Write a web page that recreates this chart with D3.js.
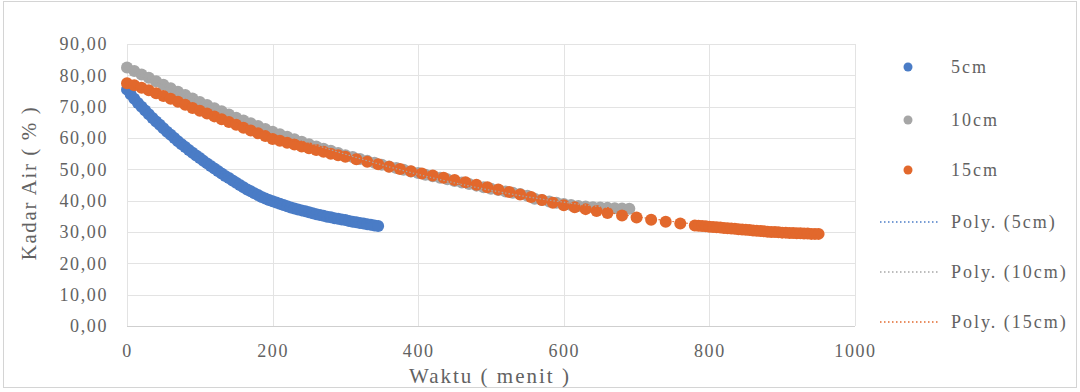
<!DOCTYPE html>
<html>
<head>
<meta charset="utf-8">
<script src="https://cdn.jsdelivr.net/npm/d3@7"></script>
<style>
  body { margin: 0; background: #fff; }
  text { font-family: "Liberation Serif", "Times New Roman", serif; fill: #626262; }
</style>
</head>
<body>
<svg id="chart" width="1080" height="392"></svg>
<script>
// 5cm
const time5 = [0,5,10,15,20,25,30,35,40,45,50,55,60,65,70,75,80,85,90,95,100,105,110,115,120,
  125,130,135,140,145,150,155,160,165,170,175,180,185,190,195,200,205,210,215,220,225,230,235,
  240,245,250,255,260,265,270,275,280,285,290,295,300,305,310,315,320,325,330,335,340,345];
const kadar5 = [75.5,74.0,72.5,71.2,70.0,68.8,67.6,66.4,65.3,64.2,63.1,62.0,61.0,60.0,59.0,58.0,
  57.1,56.2,55.3,54.4,53.6,52.7,51.9,51.1,50.3,49.5,48.7,47.9,47.2,46.4,45.7,45.0,44.3,43.6,43.0,
  42.4,41.8,41.2,40.7,40.2,39.8,39.4,39.0,38.6,38.2,37.8,37.5,37.2,36.9,36.6,36.3,36.0,35.7,35.4,
  35.2,34.9,34.7,34.4,34.2,34.0,33.8,33.5,33.3,33.1,32.9,32.7,32.5,32.3,32.1,31.9];

// 10cm
const time10 = [0,10,20,30,40,50,60,70,80,90,100,110,120,130,140,150,160,170,180,190,200,
  210,220,230,240,250,260,270,280,290,300,310,320,330,340,350,360,370,380,390,400,
  410,420,430,440,450,460,470,480,490,500,510,520,530,540,550,560,570,580,590,600,
  610,620,630,640,650,660,670,680,690];
const kadar10 = [82.5,81.4,80.3,79.2,78.1,77.0,75.9,74.8,73.7,72.6,71.5,70.5,69.5,68.5,67.5,66.5,
  65.6,64.7,63.8,62.9,62.0,61.2,60.4,59.6,58.8,58.0,57.3,56.6,55.9,55.2,54.5,53.9,53.3,52.7,52.1,
  51.5,50.9,50.4,49.9,49.3,48.8,48.3,47.8,47.3,46.8,46.3,45.8,45.3,44.8,44.3,43.8,43.4,42.9,42.5,
  42.1,41.6,40.6,40.2,39.7,39.3,38.9,38.6,38.3,38.1,37.9,37.8,37.7,37.6,37.5,37.4];

// 15cm
const time15 = [0,10,20,30,40,50,60,70,80,90,100,110,120,130,140,150,160,170,180,190,200,
  210,220,230,240,250,260,270,280,290,300,
  315,330,345,360,375,390,405,420,435,450,465,480,495,510,525,540,555,570,585,600,615,630,645,660,
  680,700,720,740,760,780,
  785,790,795,800,805,810,815,820,825,830,835,840,845,850,855,860,865,870,875,880,885,890,895,
  900,905,910,915,920,925,930,935,940,945,950];
const kadar15 = [77.5,76.8,76.0,75.2,74.3,73.4,72.5,71.6,70.6,69.6,68.7,67.8,66.9,66.0,65.1,64.2,
  63.3,62.4,61.5,60.6,59.7,59.1,58.5,57.9,57.3,56.7,56.2,55.6,55.0,54.5,54.0,
  53.2,52.4,51.6,50.8,50.1,49.4,48.7,48.0,47.3,46.6,45.9,45.1,44.3,43.6,42.8,42.0,41.2,40.2,39.3,
  38.5,37.9,37.3,36.7,36.1,
  35.3,34.6,33.9,33.3,32.7,32.1,
  32.0,31.9,31.8,31.7,31.6,31.5,31.4,31.3,31.2,31.1,31.0,30.9,30.8,30.7,30.6,30.5,30.4,30.3,30.2,
  30.1,30.0,30.0,29.9,29.8,29.8,29.7,29.7,29.6,29.6,29.5,29.5,29.4,29.4,29.4];

const seriesNames = ['5cm', '10cm', '15cm'];
const seriesColors = ['#4a7cc6', '#a6a6a6', '#e2682c'];
const xTicks = [0, 200, 400, 600, 800, 1000];
const yTicks = [0, 10, 20, 30, 40, 50, 60, 70, 80, 90];

const series = [
  { name: seriesNames[0], color: seriesColors[0], pts: time5.map((t, i) => [t, kadar5[i]]) },
  { name: seriesNames[1], color: seriesColors[1], pts: time10.map((t, i) => [t, kadar10[i]]) },
  { name: seriesNames[2], color: seriesColors[2], pts: time15.map((t, i) => [t, kadar15[i]]) }
];

const svg = d3.select('#chart');

// outer frame
svg.append('rect')
  .attr('x', 3.5).attr('y', 1.5).attr('width', 1073).attr('height', 386)
  .attr('fill', 'none').attr('stroke', '#d4d4d4');

const x = d3.scaleLinear().domain([0, 1000]).range([127, 855]);
const y = d3.scaleLinear().domain([0, 90]).range([326, 44]);

// gridlines
svg.append('g').selectAll('line').data(yTicks).join('line')
  .attr('x1', x(0)).attr('x2', x(1000))
  .attr('y1', d => Math.round(y(d)) + 0.5).attr('y2', d => Math.round(y(d)) + 0.5)
  .attr('stroke', d => d === 0 ? '#cfcfcf' : '#e3e3e3');
svg.append('g').selectAll('line').data(xTicks).join('line')
  .attr('y1', y(0)).attr('y2', y(90))
  .attr('x1', d => Math.round(x(d)) + 0.5).attr('x2', d => Math.round(x(d)) + 0.5)
  .attr('stroke', '#e3e3e3');

// axes (labels only)
const yAxis = svg.append('g')
  .attr('transform', 'translate(' + x(0) + ',0)')
  .call(d3.axisLeft(y).tickValues(yTicks).tickSize(0).tickPadding(19)
    .tickFormat(d => d3.format('.2f')(d).replace('.', ',')));
yAxis.select('.domain').remove();
yAxis.selectAll('text')
  .attr('font-size', 18).attr('letter-spacing', 1.6)
  .attr('font-family', '"Liberation Serif", serif').attr('fill', '#626262');

const xAxis = svg.append('g')
  .attr('transform', 'translate(0,' + y(0) + ')')
  .call(d3.axisBottom(x).tickValues(xTicks).tickSize(0).tickPadding(18)
    .tickFormat(d3.format('d')));
xAxis.select('.domain').remove();
xAxis.selectAll('text')
  .attr('font-size', 18).attr('letter-spacing', 1.6)
  .attr('font-family', '"Liberation Serif", serif').attr('fill', '#626262');

// axis titles
svg.append('text')
  .attr('x', 490).attr('y', 383)
  .attr('text-anchor', 'middle')
  .attr('font-size', 21).attr('letter-spacing', 2)
  .text('Waktu ( menit )');
svg.append('text')
  .attr('transform', 'translate(36,183) rotate(-90)')
  .attr('text-anchor', 'middle')
  .attr('font-size', 21).attr('letter-spacing', 1.6)
  .text('Kadar Air ( % )');

// markers
series.forEach(s => {
  svg.append('g').selectAll('circle').data(s.pts).join('circle')
    .attr('cx', d => x(d[0]))
    .attr('cy', d => y(d[1]))
    .attr('r', 6)
    .attr('fill', s.color);
});

// polynomial (order 2) trendlines
function polyFit(pts) {
  const S = [0, 0, 0, 0, 0], T = [0, 0, 0];
  pts.forEach(([t, v]) => {
    for (let k = 0; k < 5; k++) S[k] += Math.pow(t, k);
    for (let k = 0; k < 3; k++) T[k] += v * Math.pow(t, k);
  });
  const A = [[S[0], S[1], S[2], T[0]], [S[1], S[2], S[3], T[1]], [S[2], S[3], S[4], T[2]]];
  for (let i = 0; i < 3; i++) {
    for (let j = i + 1; j < 3; j++) {
      const f = A[j][i] / A[i][i];
      for (let k = i; k < 4; k++) A[j][k] -= f * A[i][k];
    }
  }
  const c = [0, 0, 0];
  for (let i = 2; i >= 0; i--) {
    let s = A[i][3];
    for (let k = i + 1; k < 3; k++) s -= A[i][k] * c[k];
    c[i] = s / A[i][i];
  }
  return t => c[0] + c[1] * t + c[2] * t * t;
}

const line = d3.line().x(d => x(d[0])).y(d => y(d[1]));
series.forEach(s => {
  const f = polyFit(s.pts);
  const t0 = s.pts[0][0], t1 = s.pts[s.pts.length - 1][0];
  const tt = d3.range(t0, t1 + 0.1, (t1 - t0) / 60);
  svg.append('path')
    .datum(tt.map(t => [t, f(t)]))
    .attr('d', line)
    .attr('fill', 'none')
    .attr('stroke', s.color)
    .attr('stroke-width', 1.2)
    .attr('stroke-dasharray', '1.5,2');
});

// legend
const legend = svg.append('g');
const legendRows = [67, 120, 170, 222, 272, 322];
series.forEach((s, i) => {
  legend.append('circle')
    .attr('cx', 908).attr('cy', legendRows[i]).attr('r', 4.5).attr('fill', s.color);
  legend.append('text')
    .attr('x', 951).attr('y', legendRows[i] + 6)
    .attr('font-size', 18).attr('letter-spacing', 2)
    .text(s.name);
});
series.forEach((s, i) => {
  const yy = legendRows[i + 3];
  legend.append('line')
    .attr('x1', 880).attr('x2', 938).attr('y1', yy).attr('y2', yy)
    .attr('stroke', s.color).attr('stroke-width', 1.5)
    .attr('stroke-dasharray', '1.5,2.5');
  legend.append('text')
    .attr('x', 951).attr('y', yy + 6)
    .attr('font-size', 18).attr('letter-spacing', 2)
    .text('Poly. (' + s.name + ')');
});
</script>
</body>
</html>
